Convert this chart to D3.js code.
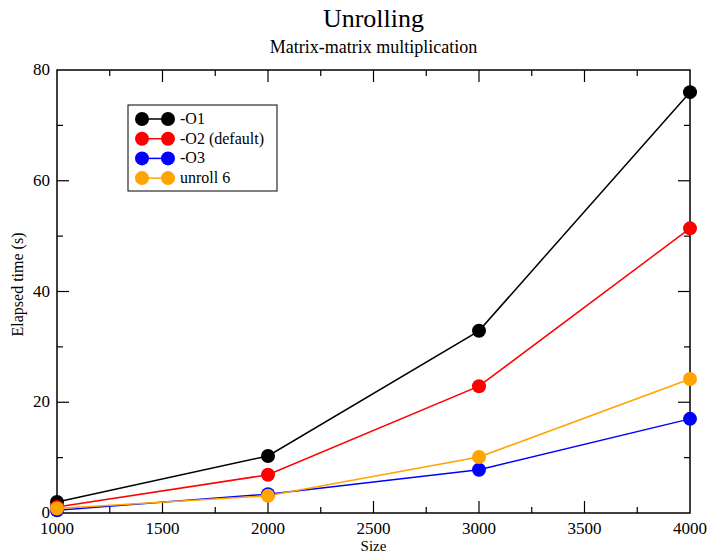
<!DOCTYPE html>
<html>
<head>
<meta charset="utf-8">
<script src="https://cdn.jsdelivr.net/npm/d3@7"></script>
<style>
  body { margin: 0; background: #fff; }
  svg text { font-family: "Liberation Serif", "DejaVu Serif", serif; fill: #000; }
</style>
</head>
<body>
<svg class="chart"></svg>
<script>
var sizes = [1000, 2000, 3000, 4000];
var o1 = [2.0, 10.3, 32.9, 76.0];
var o2 = [1.1, 6.9, 22.9, 51.4];
var o3 = [0.5, 3.4, 7.8, 17.0];
var unroll6 = [0.8, 3.1, 10.1, 24.2];
var seriesNames = ["-O1", "-O2 (default)", "-O3", "unroll 6"];
var seriesColors = ["#000000", "#ff0000", "#0000ff", "#ffa500"];
var xTicks = [1000, 1500, 2000, 2500, 3000, 3500, 4000];
var yTicks = [0, 20, 40, 60, 80];

var margin = {top: 70, right: 20, bottom: 40, left: 57},
width = 690 - margin.left,
height = 513 - margin.top;

var x = d3.scaleLinear().domain([1000, 4000]).range([0, width]);
var y = d3.scaleLinear().domain([0, 80]).range([height, 0]);

var svg = d3.select(".chart")
    .attr("width", 710)
    .attr("height", 553);

var chart = svg.append("g")
    .attr("transform", "translate(" + margin.left + "," + margin.top + ")");

// titles
svg.append("text")
    .attr("x", margin.left + width / 2)
    .attr("y", 27)
    .attr("text-anchor", "middle")
    .style("font-size", "26px")
    .text("Unrolling");

svg.append("text")
    .attr("x", margin.left + width / 2)
    .attr("y", 53)
    .attr("text-anchor", "middle")
    .style("font-size", "18px")
    .text("Matrix-matrix multiplication");

// frame
chart.append("rect")
    .attr("width", width)
    .attr("height", height)
    .attr("fill", "none")
    .attr("stroke", "black")
    .attr("stroke-width", 1.5);

// inward ticks on all four sides
var xMinor = d3.range(1000, 4001, 250);
var yMinor = d3.range(0, 81, 10);

function tickLen(major) { return major ? 12 : 6; }

xMinor.forEach(function(v) {
  var major = v % 500 === 0;
  if (v === 1000 || v === 4000) return;
  chart.append("line").attr("x1", x(v)).attr("x2", x(v))
    .attr("y1", height).attr("y2", height - tickLen(major))
    .attr("stroke", "black").attr("stroke-width", 1.2);
  chart.append("line").attr("x1", x(v)).attr("x2", x(v))
    .attr("y1", 0).attr("y2", tickLen(major))
    .attr("stroke", "black").attr("stroke-width", 1.2);
});

yMinor.forEach(function(v) {
  var major = v % 20 === 0;
  if (v === 0 || v === 80) return;
  chart.append("line").attr("y1", y(v)).attr("y2", y(v))
    .attr("x1", 0).attr("x2", tickLen(major))
    .attr("stroke", "black").attr("stroke-width", 1.2);
  chart.append("line").attr("y1", y(v)).attr("y2", y(v))
    .attr("x1", width).attr("x2", width - tickLen(major))
    .attr("stroke", "black").attr("stroke-width", 1.2);
});

// tick labels
chart.selectAll(".xlab")
  .data(xTicks)
  .enter().append("text")
    .attr("class", "xlab")
    .attr("x", d => x(d))
    .attr("y", height + 21)
    .attr("text-anchor", "middle")
    .style("font-size", "17px")
    .text(d => d);

chart.selectAll(".ylab")
  .data(yTicks)
  .enter().append("text")
    .attr("class", "ylab")
    .attr("x", -7)
    .attr("y", d => y(d) + 5)
    .attr("text-anchor", "end")
    .style("font-size", "17px")
    .text(d => d);

// axis titles
chart.append("text")
    .attr("x", width / 2)
    .attr("y", height + 38)
    .attr("text-anchor", "middle")
    .style("font-size", "15px")
    .text("Size");

chart.append("text")
    .attr("transform", "rotate(-90)")
    .attr("x", -height / 2 + 7)
    .attr("y", -34)
    .attr("text-anchor", "middle")
    .style("font-size", "16px")
    .text("Elapsed time (s)");

// series
var allSeries = [o1, o2, o3, unroll6];

var line = d3.line()
  .x((d, i) => x(sizes[i]))
  .y(d => y(d));

allSeries.forEach(function(vals, k) {
  chart.append("path")
      .datum(vals)
      .attr("fill", "none")
      .attr("stroke", seriesColors[k])
      .attr("stroke-width", 1.5)
      .attr("d", line);
});

allSeries.forEach(function(vals, k) {
  chart.selectAll(".pt" + k)
    .data(vals)
    .enter().append("circle")
      .attr("class", "pt" + k)
      .attr("cx", (d, i) => x(sizes[i]))
      .attr("cy", d => y(d))
      .attr("r", 7)
      .attr("fill", seriesColors[k]);
});

// legend
var legend = svg.append("g")
    .attr("transform", "translate(128,105)");

legend.append("rect")
    .attr("width", 149)
    .attr("height", 86)
    .attr("fill", "white")
    .attr("stroke", "black")
    .attr("stroke-width", 1);

seriesNames.forEach(function(name, k) {
  var ly = 14 + k * 19.7;
  legend.append("line")
      .attr("x1", 14).attr("x2", 40)
      .attr("y1", ly).attr("y2", ly)
      .attr("stroke", seriesColors[k])
      .attr("stroke-width", 1.5);
  [14, 40].forEach(function(cx) {
    legend.append("circle")
        .attr("cx", cx).attr("cy", ly).attr("r", 7)
        .attr("fill", seriesColors[k]);
  });
  legend.append("text")
      .attr("x", 52)
      .attr("y", ly + 5)
      .style("font-size", "16px")
      .text(name);
});
</script>
</body>
</html>
